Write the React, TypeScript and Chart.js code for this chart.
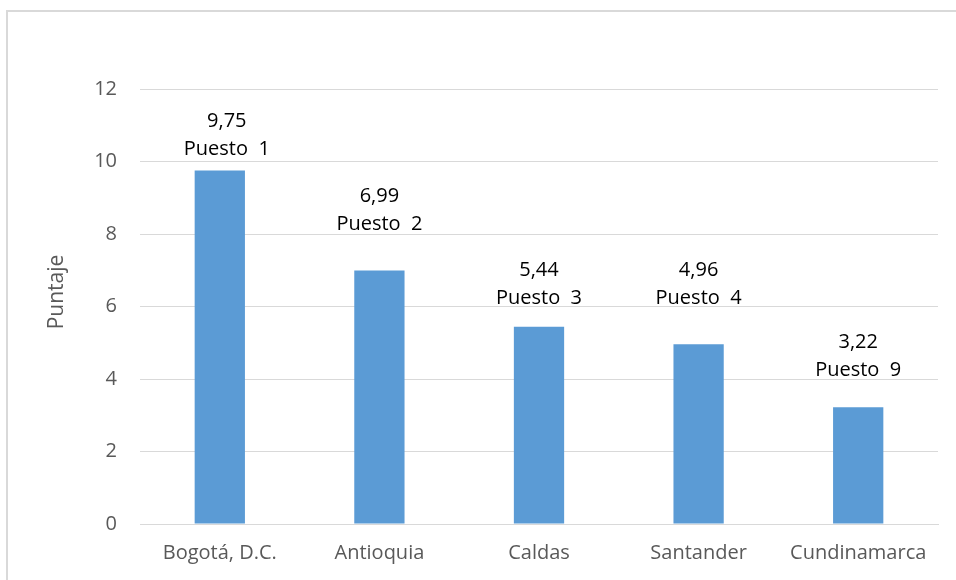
import React, { useEffect, useRef } from "react";
import { Chart, registerables } from "chart.js";

Chart.register(...registerables);

const categories = ["Bogotá, D.C.", "Antioquia", "Caldas", "Santander", "Cundinamarca"];
const scores = [9.75, 6.99, 5.44, 4.96, 3.22];
const ranks = [1, 2, 3, 4, 9];
const yTicks = [0, 2, 4, 6, 8, 10, 12];
const yTitle = "Puntaje";

// manual label placement (px above bar top), as in the original
const labelGap = [21, 46, 29, 46, 37];
const labelDx = [7, 0, 0, 0, 0];

const FONT = "'Open Sans', sans-serif";

const labelPlugin = {
  id: "barLabels",
  afterDatasetsDraw(chart: any) {
    const ctx = chart.ctx;
    const meta = chart.getDatasetMeta(0);
    ctx.save();
    ctx.fillStyle = "#000000";
    ctx.font = `20px ${FONT}`;
    ctx.textAlign = "center";
    ctx.textBaseline = "middle";
    meta.data.forEach((bar: any, i: number) => {
      const x = bar.x + labelDx[i];
      const yP = bar.y - labelGap[i];
      ctx.fillText(`Puesto  ${ranks[i]}`, x, yP);
      ctx.fillText(scores[i].toFixed(2).replace(".", ","), x, yP - 28);
    });
    // y axis title
    ctx.fillStyle = "#595959";
    ctx.font = `21px ${FONT}`;
    ctx.translate(57, 292);
    ctx.rotate(-Math.PI / 2);
    ctx.fillText(yTitle, 0, 0);
    ctx.restore();
  },
};

export default function App() {
  const ref = useRef<HTMLCanvasElement>(null);
  useEffect(() => {
    if (!ref.current) return;
    const chart = new Chart(ref.current, {
      type: "bar",
      data: {
        labels: categories,
        datasets: [
          {
            data: scores,
            backgroundColor: "#5b9bd5",
            categoryPercentage: 1,
            barPercentage: 0.315,
          },
        ],
      },
      options: {
        animation: false,
        responsive: false,
        maintainAspectRatio: false,
        layout: { padding: { top: 89, right: 18, bottom: 0, left: 0 } },
        plugins: { legend: { display: false }, tooltip: { enabled: false } },
        scales: {
          x: {
            grid: { display: false },
            border: { color: "#d9d9d9", width: 1 },
            ticks: { color: "#595959", font: { family: FONT, size: 20 }, padding: 9 },
            afterFit(scale: any) {
              scale.height = 56;
            },
          },
          y: {
            min: 0,
            max: 12,
            afterBuildTicks(scale: any) {
              scale.ticks = yTicks.map((v) => ({ value: v }));
            },
            grid: { color: "#d9d9d9", drawTicks: false },
            border: { display: false },
            ticks: { color: "#595959", font: { family: FONT, size: 20 }, padding: 23 },
            afterFit(scale: any) {
              scale.width = 140;
            },
          },
        },
      },
      plugins: [labelPlugin],
    });
    return () => chart.destroy();
  }, []);

  return (
    <div
      style={{
        position: "fixed",
        left: 0,
        top: 0,
        width: 956,
        height: 580,
        overflow: "hidden",
        background: "#fff",
      }}
    >
      <div
        style={{
          position: "absolute",
          left: 6,
          top: 10,
          width: 1000,
          height: 1000,
          border: "2px solid #d9d9d9",
        }}
      />
      <canvas
        ref={ref}
        width={956}
        height={580}
        style={{ position: "absolute", left: 0, top: 0, width: 956, height: 580 }}
      />
    </div>
  );
}
